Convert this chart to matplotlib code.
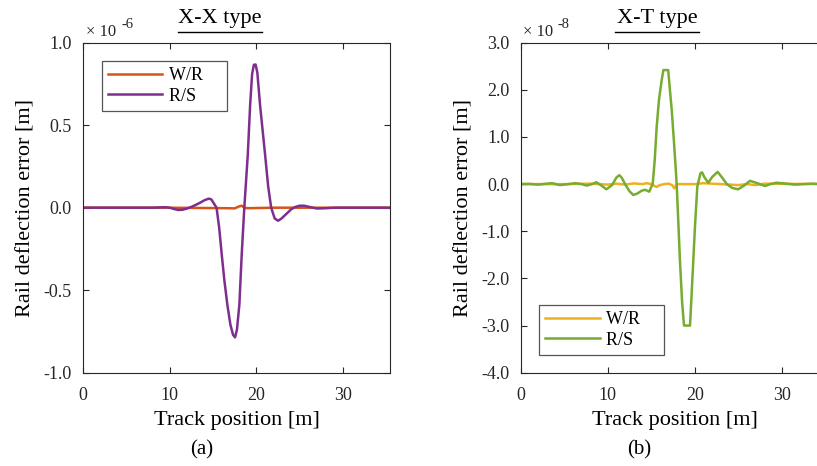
import matplotlib
matplotlib.use("Agg")
import matplotlib.pyplot as plt
from matplotlib.lines import Line2D

plt.rcParams["font.family"] = ["Liberation Serif", "DejaVu Serif"]

# ── X-X type (values in 1e-6 m) ──────────────────────────────────────────
xx_rs_x = [0, 5, 8, 9, 9.5, 10, 10.5, 11, 11.5, 12, 12.5, 13, 13.5, 14, 14.5,
           14.8, 15.1, 15.4, 15.7, 16.0, 16.3, 16.65, 17.0, 17.3, 17.53, 17.75,
           18.03, 18.3, 18.6, 19.0, 19.27, 19.5, 19.7, 19.9, 20.1, 20.42, 21.0,
           21.35, 21.7, 22.1, 22.5, 22.9, 23.5, 24, 24.5, 25, 25.5, 26, 26.5,
           27, 28, 29, 36]
xx_rs_y = [0, 0, 0, 0.002, 0.003, 0.0, -0.008, -0.014, -0.012, -0.005, 0.005,
           0.017, 0.03, 0.045, 0.055, 0.05, 0.025, 0.0, -0.12, -0.285, -0.44,
           -0.59, -0.71, -0.77, -0.786, -0.74, -0.588, -0.285, 0.0, 0.32, 0.62,
           0.81, 0.866, 0.868, 0.82, 0.62, 0.32, 0.13, 0.0, -0.065, -0.079,
           -0.065, -0.035, -0.01, 0.005, 0.012, 0.012, 0.006, 0.0, -0.005,
           -0.003, 0, 0]
xx_wr_x = [0, 10, 16.5, 17.5, 18.0, 18.3, 18.6, 19.0, 22, 36]
xx_wr_y = [0, 0, -0.003, -0.004, 0.008, 0.012, 0.0, -0.003, 0, 0]

# ── X-T type (values in 1e-8 m) ──────────────────────────────────────────
xt_rs_x = [0, 1, 2, 3, 3.6, 4.5, 5.5, 6.3, 7.0, 7.6, 8.2, 8.7, 9.2, 9.85, 10.5,
           11.0, 11.33, 11.6, 12.0, 12.5, 12.94, 13.4, 13.9, 14.3, 14.78, 15.03,
           15.17, 15.4, 15.63, 15.9, 16.2, 16.4, 16.95, 17.15, 17.36, 17.65,
           17.93, 18.3, 18.55, 18.77, 19.46, 19.65, 20.03, 20.3, 20.66, 20.85,
           21.1, 21.56, 22.0, 22.64, 23.1, 23.7, 24.3, 25.0, 25.6, 26.36, 27.2,
           28.08, 28.7, 29.4, 30.5, 31.5, 32.5, 33.5, 34.5, 36]
xt_rs_y = [0, 0.005, -0.01, 0.01, 0.02, -0.02, 0.0, 0.02, 0.0, -0.03, 0.0, 0.04,
           -0.02, -0.11, -0.02, 0.14, 0.19, 0.14, 0.0, -0.15, -0.23, -0.2, -0.14,
           -0.12, -0.16, -0.05, 0.0, 0.5, 1.22, 1.8, 2.2, 2.42, 2.42, 2.0, 1.57,
           0.8, 0.0, -1.61, -2.5, -3.0, -3.0, -2.32, -0.9, -0.05, 0.23, 0.25,
           0.15, 0.03, 0.15, 0.26, 0.15, 0.0, -0.08, -0.11, -0.04, 0.07, 0.02,
           -0.04, 0.0, 0.03, 0.01, -0.01, 0.0, 0.01, 0.0, 0]
xt_wr_x = [0, 5, 8, 10, 11, 12, 13, 14, 14.5, 15, 15.6, 16.0, 16.5, 17.0, 17.4,
           17.66, 17.9, 18.5, 20, 21, 22, 23, 24, 25, 26, 27, 28, 36]
xt_wr_y = [0, 0, 0.01, -0.01, 0.01, -0.01, 0.015, 0.0, 0.02, 0.0, -0.06, -0.02,
           0.0, 0.01, -0.02, -0.09, 0.0, 0.0, 0.0, 0.02, 0.01, 0.0, -0.01, -0.02,
           0.0, -0.02, 0.01, 0]

xticks = [0, 10, 20, 30]
xx_yticks = [-1.0, -0.5, 0.0, 0.5, 1.0]
xt_yticks = [-4.0, -3.0, -2.0, -1.0, 0.0, 1.0, 2.0, 3.0]

W, H = 817, 466


def fx(px):
    return px / W


def fy(py):
    return 1 - py / H


fig = plt.figure(figsize=(W / 100, H / 100), dpi=100)


def style_axes(ax, yticks, ylim):
    ax.set_xlim(0, 35.4)
    ax.set_ylim(*ylim)
    ax.set_xticks(xticks)
    ax.set_yticks(yticks)
    ax.set_yticklabels([f"{v:.1f}" for v in yticks])
    ax.tick_params(direction="in", top=True, right=True, length=4,
                   width=0.8, labelsize=13, colors="#262626")
    ax.tick_params(axis="y", pad=8)
    ax.tick_params(axis="x", pad=10)
    for s in ax.spines.values():
        s.set_color("#262626")
        s.set_linewidth(0.8)
    ax.set_xlabel("Track position [m]", fontsize=16, labelpad=5)
    ax.set_ylabel("Rail deflection error [m]", fontsize=16, labelpad=6)


def legend(ax, **kw):
    # MATLAB-style box: long handles, generous room right of the labels
    handles, labels = ax.get_legend_handles_labels()
    leg = ax.legend(handles, [lab + "    " for lab in labels], fontsize=13,
                    handlelength=3.0, handletextpad=0.35, labelspacing=0.2,
                    borderpad=0.35, borderaxespad=0, fancybox=False,
                    framealpha=1, **kw)
    leg.get_frame().set_edgecolor("#555555")
    leg.get_frame().set_linewidth(0.9)


# left panel
ax1 = fig.add_axes([fx(83), fy(372.7), fx(307), 330 / H])
ax1.plot(xx_wr_x, xx_wr_y, color="#D95319", lw=1.8, label="W/R")
ax1.plot(xx_rs_x, xx_rs_y, color="#7E2F8E", lw=1.8, label="R/S")
style_axes(ax1, xx_yticks, (-1.0, 1.0))
legend(ax1, loc="upper left", bbox_to_anchor=(0.061, 0.945))

# right panel, runs past the figure edge
ax2 = fig.add_axes([fx(520.7), fy(372.7), fx(308), 330 / H])
ax2.plot(xt_wr_x, xt_wr_y, color="#EDB120", lw=1.8, label="W/R")
ax2.plot(xt_rs_x, xt_rs_y, color="#77AC30", lw=1.8, label="R/S")
style_axes(ax2, xt_yticks, (-4.0, 3.0))
legend(ax2, loc="lower left", bbox_to_anchor=(0.060, 0.054))

# exponent labels
for x0, exp in [(86, "-6"), (523, "-8")]:
    fig.text(fx(x0), fy(36), "\u00d7 10", fontsize=12, color="#262626",
             va="baseline")
    fig.text(fx(x0 + 35), fy(28), exp, fontsize=10.5, color="#262626",
             va="baseline")

# underlined titles and sub-captions
for cx, title, cap_x, cap in [(219.7, "X-X type", 201.7, "(a)"),
                              (657, "X-T type", 639, "(b)")]:
    fig.text(fx(cx), fy(18), title, fontsize=16, ha="center", va="center")
    fig.add_artist(Line2D([fx(cx - 42), fx(cx + 42)], [fy(32.3), fy(32.3)],
                          transform=fig.transFigure, color="black", lw=1))
    fig.text(fx(cap_x), fy(450), cap, fontsize=15, ha="center", va="center")

fig.savefig("out.png", dpi=100)
